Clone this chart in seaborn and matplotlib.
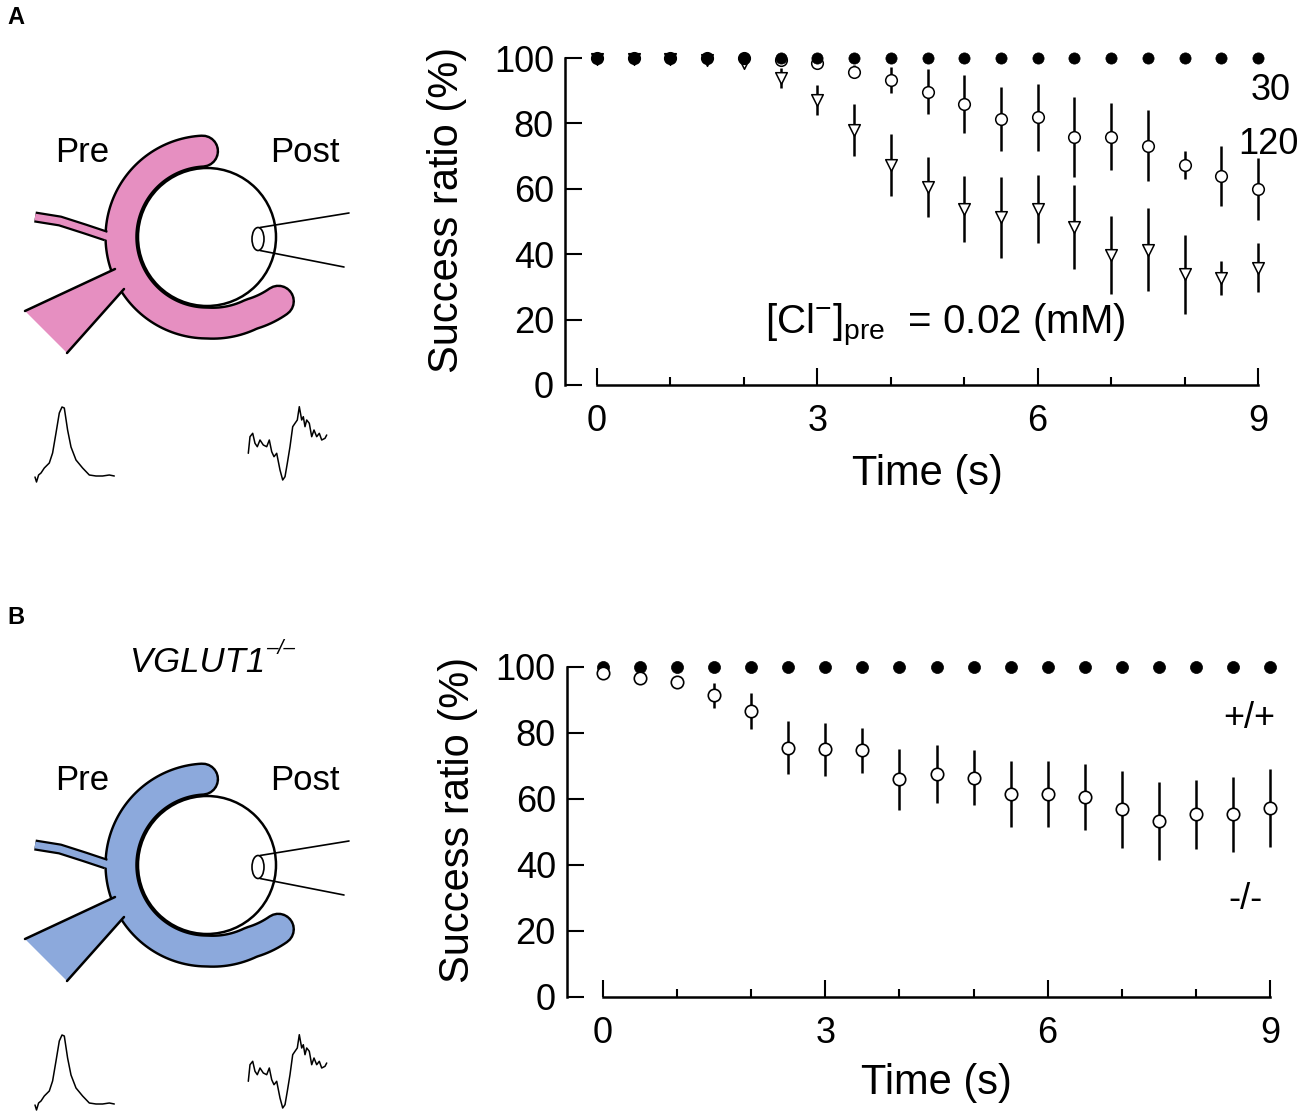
import numpy as np
import pandas as pd
import matplotlib
matplotlib.use("Agg")
import matplotlib.pyplot as plt
from matplotlib.patches import Circle, Ellipse, Polygon
import seaborn as sns

# ---- data ----
time_s = [0, 0.5, 1, 1.5, 2, 2.5, 3, 3.5, 4, 4.5, 5, 5.5, 6, 6.5, 7, 7.5, 8, 8.5, 9]

# panel A
filled_a = [100, 100, 100, 100, 100, 100, 100, 100, 100, 100,
            100, 100, 100, 100, 100, 100, 100, 100, 100]
circle_a = [100, 100, 100, 100, 100, 99.5, 98.4, 95.8, 93.3, 89.7,
            85.9, 81.3, 81.9, 75.9, 75.9, 73.2, 67.3, 64.0, 59.9]
circle_a_err = [0, 0, 0, 0, 0, 0.5, 1.0, 2.0, 4.0, 6.8,
                8.9, 9.8, 10.2, 12.2, 10.2, 10.8, 4.3, 9.2, 9.5]
triangle_a = [99.6, 99.6, 99.6, 99.5, 98.6, 93.8, 87.2, 78.0, 67.3, 60.6,
              53.7, 51.3, 53.8, 48.4, 39.8, 41.3, 33.8, 32.6, 35.9]
triangle_a_err = [0, 0, 0, 0, 0.5, 3.0, 4.5, 8.0, 9.5, 9.2,
                  10.1, 12.4, 10.3, 12.8, 11.9, 12.7, 12.2, 5.2, 7.5]

# panel B
filled_b = [100, 100, 100, 100, 100, 100, 100, 100, 100, 100,
            100, 100, 100, 100, 100, 100, 100, 100, 100]
circle_b = [98.3, 96.8, 95.4, 91.5, 86.7, 75.5, 75.1, 74.8, 66.0, 67.6,
            66.5, 61.5, 61.5, 60.5, 56.9, 53.4, 55.4, 55.4, 57.4]
circle_b_err = [0.5, 0.8, 1.5, 3.8, 5.5, 8.0, 8.0, 6.8, 9.3, 8.7,
                8.3, 10.0, 10.0, 10.0, 11.6, 11.9, 10.5, 11.4, 11.8]

x_ticks = [0, 3, 6, 9]
y_ticks = [0, 20, 40, 60, 80, 100]

# example traces (arbitrary units)
pre_t = [-1, 0.5, 2.6, 5, 8.3, 13.3, 16.6, 20, 23.3, 26, 28.3, 31.6, 35, 40,
         46.6, 53.3, 60, 66.6, 73.3, 78.3]
pre_v = [3, -2, 5, 7, 12, 17, 27, 47, 67, 73, 72, 50, 33, 20,
         12, 5, 4, 4, 5, 4]
post_t = [0.3, 2, 4.7, 7, 9.3, 12, 15.3, 18.7, 21.3, 23.7, 26, 28.7, 32, 34.7,
          37, 39.3, 42, 44.7, 47, 49.3, 51.3, 53.7, 55.3, 57, 58.7, 61.3, 63.7,
          66, 68.7, 71.3, 73.7, 77, 78.7]
post_v = [31.7, 48.3, 51.7, 41.7, 38.3, 45, 40, 38.3, 45, 33.3, 28.3, 31.7, 15, 5,
          8.3, 21.7, 38.3, 58.3, 61.7, 65, 78.3, 65, 68.3, 58.3, 65, 61.7, 48.3,
          55, 48.3, 51.7, 45, 46.7, 50]

sns.set_theme(style="ticks")
plt.rcParams["font.family"] = ["Liberation Sans", "DejaVu Sans"]
plt.rcParams["mathtext.fontset"] = "custom"
plt.rcParams["mathtext.rm"] = "Liberation Sans"
plt.rcParams["mathtext.it"] = "Liberation Sans:italic"
plt.rcParams["text.color"] = "black"
plt.rcParams["axes.labelcolor"] = "black"
plt.rcParams["xtick.color"] = "black"
plt.rcParams["ytick.color"] = "black"
plt.rcParams["axes.edgecolor"] = "black"

PINK = "#e68fc1"
BLUE = "#8ca9dc"

fig = plt.figure(figsize=(13, 11.18), dpi=100)
bg = fig.add_axes([0, 0, 1, 1])
bg.set_xlim(0, 1300)
bg.set_ylim(1118, 0)
bg.axis("off")


def draw_synapse(dy, fill):
    # postsynaptic cell
    bg.add_patch(Circle((207, 237 + dy), 69, facecolor="white",
                        edgecolor="black", lw=1.8, zorder=1))
    # calyx drawn as a thick stroke with outline
    deg = np.linspace(93, 318, 120)
    rad = np.interp(deg, [93, 270, 300, 318], [86, 86, 89, 96])
    cx = 207 + rad * np.cos(np.radians(deg))
    cy = 237 + dy - rad * np.sin(np.radians(deg))
    bg.plot(cx, cy, color="black", lw=24, solid_capstyle="round", zorder=2)
    bg.plot(cx, cy, color=fill, lw=20.5, solid_capstyle="round", zorder=3)
    # axon
    ax_x = [35, 60, 85, 106]
    ax_y = [217 + dy, 221 + dy, 229 + dy, 236 + dy]
    bg.plot(ax_x, ax_y, color="black", lw=8, solid_capstyle="butt", zorder=4)
    bg.plot(ax_x + [120], ax_y + [241 + dy], color=fill, lw=4.8,
            solid_capstyle="butt", zorder=5)
    # stimulating pipette
    bg.add_patch(Polygon([(25, 311 + dy), (115, 269 + dy), (128, 264 + dy),
                          (136, 292 + dy), (124, 289 + dy), (67, 353 + dy)],
                         closed=True, facecolor=fill, edgecolor="none", zorder=4))
    bg.plot([25, 115], [311 + dy, 269 + dy], color="black", lw=1.8, zorder=5)
    bg.plot([67, 124], [353 + dy, 289 + dy], color="black", lw=1.8, zorder=5)
    # recording pipette
    bg.add_patch(Ellipse((258, 239 + dy), 12, 23, facecolor="white",
                         edgecolor="black", lw=1.2, zorder=6))
    bg.plot([260, 349], [227.5 + dy, 213 + dy], color="black", lw=1.2, zorder=6)
    bg.plot([260, 344], [250.5 + dy, 267 + dy], color="black", lw=1.2, zorder=6)
    bg.text(82, 153 + dy, "Pre", fontsize=25, ha="center", va="center")
    bg.text(305, 153 + dy, "Post", fontsize=25, ha="center", va="center")
    # traces
    bg.plot([36 + t for t in pre_t], [480 + dy - v for v in pre_v],
            color="black", lw=1.1, zorder=6)
    bg.plot([248 + t for t in post_t], [485 + dy - v for v in post_v],
            color="black", lw=1.1, zorder=6)


draw_synapse(0, PINK)
draw_synapse(628, BLUE)

bg.text(7, 18, "A", fontsize=17, fontweight="bold", va="center")
bg.text(7, 617, "B", fontsize=17, fontweight="bold", va="center")
bg.text(130, 662, "VGLUT1", fontsize=25, style="italic", va="center")
bg.text(266, 649, "\u2013/\u2013", fontsize=15, style="italic", va="center")


def style_axes(ax, outward, labx, laby, xlab_y):
    ax.set_xlim(0, 9)
    ax.set_ylim(0, 100)
    sns.despine(ax=ax)
    ax.spines["left"].set_position(("outward", outward))
    for s in ["left", "bottom"]:
        ax.spines[s].set_linewidth(1.8)
    ax.set_xticks(x_ticks)
    ax.set_xticks([1, 2, 4, 5, 7, 8], minor=True)
    ax.set_yticks(y_ticks)
    ax.tick_params(axis="both", which="both", direction="in", width=1.5,
                   labelsize=26, color="black")
    ax.tick_params(axis="x", which="major", length=12, pad=14)
    ax.tick_params(axis="x", which="minor", length=6)
    ax.tick_params(axis="y", length=12, pad=8)
    ax.set_ylabel("Success ratio (%)", fontsize=30)
    ax.set_xlabel("Time (s)", fontsize=30)
    ax.yaxis.set_label_coords(labx, laby)
    ax.xaxis.set_label_coords(0.5, xlab_y)
    ax.patch.set_alpha(0)


# ---- panel A ----
ax_a = fig.add_axes([597 / 1300, 1 - 385 / 1118, 661 / 1300, 327 / 1118])
df_a = pd.DataFrame({"time": time_s, "filled": filled_a, "circle": circle_a,
                     "triangle": triangle_a})
ax_a.errorbar(time_s, triangle_a, yerr=triangle_a_err, fmt="none",
              ecolor="black", elinewidth=1.8, capsize=0, zorder=2, clip_on=False)
ax_a.errorbar(time_s, circle_a, yerr=circle_a_err, fmt="none",
              ecolor="black", elinewidth=1.8, capsize=0, zorder=2, clip_on=False)
sns.scatterplot(data=df_a, x="time", y="triangle", marker="v", s=70,
                color="white", edgecolor="black", linewidth=1.1, zorder=3,
                clip_on=False, legend=False, ax=ax_a)
sns.scatterplot(data=df_a, x="time", y="circle", marker="o", s=70,
                color="white", edgecolor="black", linewidth=1.1, zorder=4,
                clip_on=False, legend=False, ax=ax_a)
sns.scatterplot(data=df_a, x="time", y="filled", marker="o", s=65,
                color="black", edgecolor="black", linewidth=0.5, zorder=5,
                clip_on=False, legend=False, ax=ax_a)
style_axes(ax_a, 23, -0.197, 0.535, -0.21)
ax_a.text(9.44, 90, "30", fontsize=26, ha="right", va="center")
ax_a.text(9.55, 73.5, "120", fontsize=26, ha="right", va="center")
ax_a.text(2.29, 18.3, r"[Cl$^{-}$]$_{\mathrm{pre}}$  = 0.02 (mM)",
          fontsize=29, ha="left", va="center")

# ---- panel B ----
ax_b = fig.add_axes([603 / 1300, 1 - 997 / 1118, 667 / 1300, 330 / 1118])
df_b = pd.DataFrame({"time": time_s, "filled": filled_b, "circle": circle_b})
ax_b.errorbar(time_s, circle_b, yerr=circle_b_err, fmt="none",
              ecolor="black", elinewidth=1.8, capsize=0, zorder=2, clip_on=False)
sns.scatterplot(data=df_b, x="time", y="filled", marker="o", s=75,
                color="black", edgecolor="black", linewidth=0.5, zorder=3,
                clip_on=False, legend=False, ax=ax_b)
sns.scatterplot(data=df_b, x="time", y="circle", marker="o", s=80,
                color="white", edgecolor="black", linewidth=1.2, zorder=4,
                clip_on=False, legend=False, ax=ax_b)
style_axes(ax_b, 26, -0.187, 0.536, -0.2)
ax_b.text(9.07, 84.5, "+/+", fontsize=26, ha="right", va="center")
ax_b.text(8.9, 29.4, "-/-", fontsize=26, ha="right", va="center")

fig.savefig("out.png", dpi=100)
